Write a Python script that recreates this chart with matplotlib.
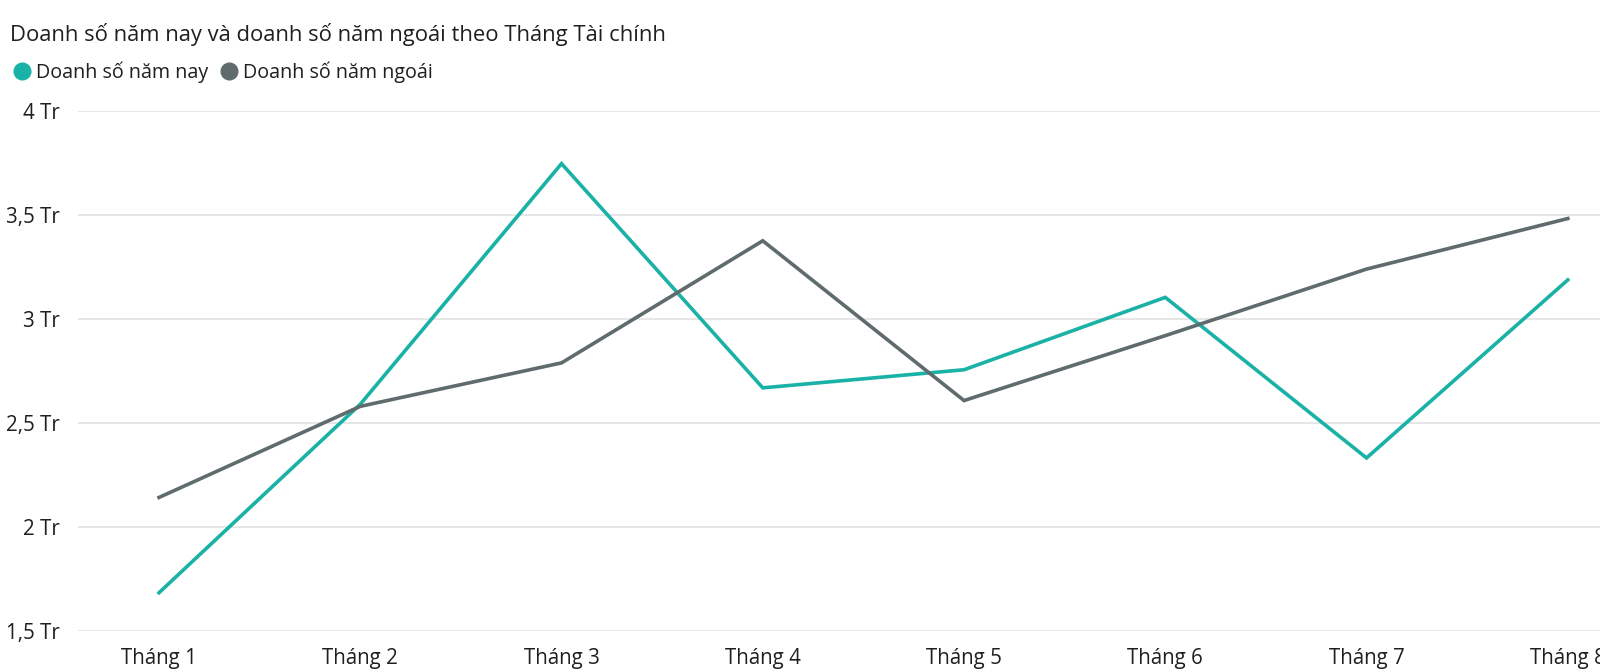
import matplotlib
matplotlib.use("Agg")
import matplotlib.pyplot as plt
from matplotlib.lines import Line2D
from matplotlib.ticker import FuncFormatter

plt.rcParams['font.family'] = ['Open Sans', 'DejaVu Sans']

# data, values in đồng
months = ["Tháng 1", "Tháng 2", "Tháng 3", "Tháng 4",
          "Tháng 5", "Tháng 6", "Tháng 7", "Tháng 8"]
sales_this_year = [1684000, 2590000, 3747000, 2669000,
                   2756000, 3104000, 2332000, 3188000]
sales_last_year = [2142000, 2580000, 2789000, 3376000,
                   2608000, 2920000, 3240000, 3483000]
y_ticks = [1500000, 2000000, 2500000, 3000000, 3500000, 4000000]

title = "Doanh số năm nay và doanh số năm ngoái theo Tháng Tài chính"
label_this = "Doanh số năm nay"
label_last = "Doanh số năm ngoái"

teal = "#1AB2A6"
grey = "#5F6B6D"
text_col = "#1F1F1F"

fig = plt.figure(figsize=(16, 6.72), dpi=100)
ax = fig.add_axes([78 / 1600, 1 - 631 / 672, 1 - 78 / 1600, (631 - 111) / 672])

x = list(range(len(months)))
ax.plot(x, sales_this_year, color=teal, lw=2.6, solid_joinstyle='miter', zorder=3)
ax.plot(x, sales_last_year, color=grey, lw=2.6, solid_joinstyle='miter', zorder=3)

ax.set_xlim(-0.4025, 7.16)
ax.set_ylim(1500000, 4000000)
ax.set_yticks(y_ticks)


def fmt(v, pos):
    s = ("%g" % (v / 1e6)).replace(".", ",")
    return s + " Tr"


ax.yaxis.set_major_formatter(FuncFormatter(fmt))
ax.set_xticks(x)
ax.set_xticklabels(months)

ax.grid(axis='y', color="#E1E1E1", lw=1.2)
ax.set_axisbelow(True)
for s in ax.spines.values():
    s.set_visible(False)
ax.tick_params(axis='both', length=0, labelsize=14.8, colors=text_col)
ax.tick_params(axis='y', pad=13)
ax.tick_params(axis='x', pad=12)

fig.text(10 / 1600, 1 - 34 / 672, title, fontsize=15.8, color=text_col,
         ha='left', va='center')

handles = [
    Line2D([], [], ls='none', marker='o', markersize=12, color=teal),
    Line2D([], [], ls='none', marker='o', markersize=12, color=grey),
]
fig.legend(handles, [label_this, label_last], loc='center left',
           bbox_to_anchor=(0 / 1600, 1 - 72 / 672), ncol=2, frameon=False,
           fontsize=14.2, labelcolor=text_col, handlelength=0.8,
           handletextpad=0.3, columnspacing=0.7, borderaxespad=0.3)

fig.savefig("out.png", dpi=100, facecolor="white")
